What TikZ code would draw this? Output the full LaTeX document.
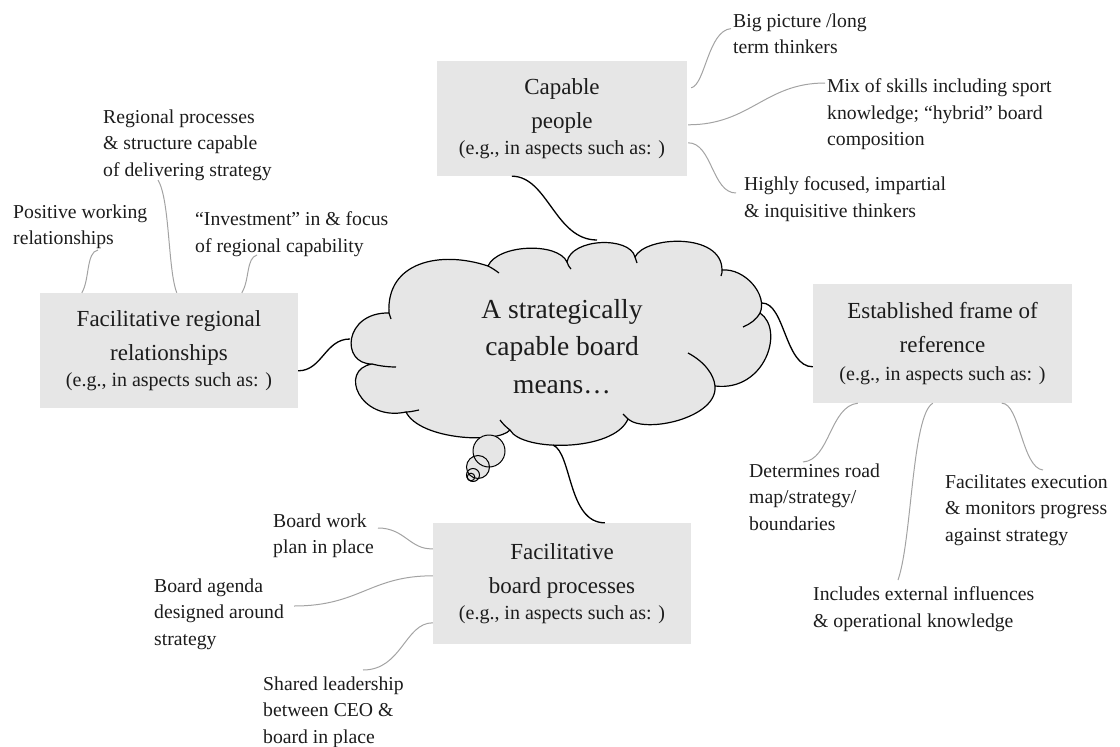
\documentclass[tikz,border=0pt]{standalone}
\usepackage{fontspec}
\IfFontExistsTF{LiberationSerif-Regular.ttf}
  {\setmainfont{LiberationSerif-Regular.ttf}}
  {\setmainfont{Liberation Serif}}
\usetikzlibrary{calc}
\definecolor{panel}{HTML}{E6E6E6}
\definecolor{twig}{HTML}{A3A3A3}
\definecolor{ink}{HTML}{1C1C1C}
\newcommand\boxtitle{\fontsize{23}{34}\selectfont}
\newcommand\boxnote{\fontsize{20}{34}\selectfont}
\newcommand\leaffont{\fontsize{19.7}{26.5}\selectfont}
\newcommand\cloudfont{\fontsize{27.5}{37.5}\selectfont}
\begin{document}
\begin{tikzpicture}[x=1pt,y=-1pt,
  panelbox/.style={fill=panel, inner sep=0pt, align=center, font=\boxtitle, text=ink},
  leaf/.style={anchor=north west, inner sep=0pt, align=left, font=\leaffont, text=ink},
  twigline/.style={draw=twig, line width=1pt},
  stem/.style={draw=black, line width=1.3pt},
  puff/.style={draw=black, line width=1.2pt, line join=round},
  bubble/.style={draw=black, line width=1pt}]
\useasboundingbox (0,0) rectangle (1120,747);

% ---- central thought cloud ----
\path[puff, fill=panel]
  (389,313) .. controls (386,262) and (440,250) .. (488,266)
  .. controls (498,244) and (558,242) .. (567,262)
  .. controls (571,238) and (630,236) .. (635,257)
  .. controls (645,236) and (722,232) .. (722,270)
  .. controls (745,268) and (768,295) .. (760,313)
  .. controls (785,330) and (765,392) .. (715,386)
  .. controls (718,418) and (645,434) .. (628,419)
  .. controls (614,452) and (522,452) .. (510,430)
  .. controls (498,444) and (420,440) .. (406,412)
  .. controls (360,422) and (338,370) .. (372,364)
  .. controls (340,364) and (344,312) .. (389,313) -- cycle;
% inner creases where the puffs meet
\draw[puff] (488,266) .. controls (492,268) and (495,270) .. (499,273);
\draw[puff] (567,262) .. controls (568,265) and (569,267) .. (571,269);
\draw[puff] (635,257) .. controls (636,259) and (636,261) .. (637,263);
\draw[puff] (722,270) .. controls (722,272) and (722,274) .. (721,276);
\draw[puff] (760,313) .. controls (756,320) and (750,324) .. (743,327);
\draw[puff] (715,386) .. controls (714,375) and (705,362) .. (688,353);
\draw[puff] (628,419) .. controls (626,417) and (625,416) .. (623,414);
\draw[puff] (510,430) .. controls (506,427) and (503,424) .. (500,420);
\draw[puff] (406,412) .. controls (410,412) and (414,411) .. (419,410);
\draw[puff] (372,364) .. controls (380,366) and (388,367) .. (396,367);
\draw[puff] (389,313) .. controls (390,315) and (390,317) .. (391,319);

% trailing thought bubbles
\fill[panel] (489,451) circle[radius=16];
\fill[panel] (478,467) circle[radius=11.5];
\fill[panel] (473,475) circle[radius=6.5];
\draw[bubble] (489,451) circle[radius=16];
\draw[bubble] (478,467) circle[radius=11.5];
\draw[bubble] (473,475) circle[radius=6.5];
\draw[bubble] (471,477) circle[radius=3.8];

\node[text=ink, align=center, font=\cloudfont, inner sep=0pt] (core) at (562,346.5)
  {A strategically\\capable board\\means…};
\coordinate (puffN) at (597,240);
\coordinate (puffW) at (350,339);
\coordinate (puffE) at (762,303);
\coordinate (puffS) at (553,445);

% ---- the four theme boxes ----
\node[panelbox, minimum width=250, minimum height=115] (cap) at (562,118.5)
  {Capable\\people\\[-8pt]\boxnote (e.g., in aspects such as: )};
\node[panelbox, minimum width=258, minimum height=115] (reg) at (169,350.5)
  {Facilitative regional\\relationships\\[-8pt]\boxnote (e.g., in aspects such as: )};
\node[panelbox, minimum width=259, minimum height=119] (frm) at (942.5,343.5)
  {Established frame of\\reference\\[-6pt]\boxnote (e.g., in aspects such as: )};
\node[panelbox, minimum width=258, minimum height=121] (brd) at (562,583.5)
  {Facilitative\\board processes\\[-8pt]\boxnote (e.g., in aspects such as: )};

% ---- aspects ----
\node[leaf] (big) at (733,13.6) {Big picture /long\\term thinkers};
\node[leaf] (mix) at (827,78.6) {Mix of skills including sport\\knowledge; “hybrid” board\\composition};
\node[leaf] (hif) at (744,176.6) {Highly focused, impartial\\\& inquisitive thinkers};
\node[leaf] (pos) at (13,204.6) {Positive working\\relationships};
\node[leaf] (rgp) at (103,109.6) {Regional processes\\\& structure capable\\of delivering strategy};
\node[leaf] (inv) at (195,211.6) {“Investment” in \& focus\\of regional capability};
\node[leaf] (det) at (749,463.6) {Determines road\\map/strategy/\\boundaries};
\node[leaf] (fac) at (945,474.6) {Facilitates execution\\\& monitors progress\\against strategy};
\node[leaf] (inc) at (813,586.6) {Includes external influences\\\& operational knowledge};
\node[leaf] (bwp) at (273,513.6) {Board work\\plan in place};
\node[leaf] (bag) at (154,578.6) {Board agenda\\designed around\\strategy};
\node[leaf] (shl) at (263,676.6) {Shared leadership\\between CEO \&\\board in place};

% ---- links from the cloud to the boxes ----
\draw[stem] ($(cap.south west)+(75,0)$) .. controls +(36,0) and +(-42,0) .. (puffN);
\draw[stem] ($(reg.north east)+(0,78)$) .. controls +(24,0) and +(-25,0) .. (puffW);
\draw[stem] (puffE) .. controls +(23,0) and +(-28,0) .. ($(frm.north west)+(0,83)$);
\draw[stem] (puffS) .. controls +(19,8) and +(-37,0) .. ($(brd.north west)+(172,0)$);

% ---- links from the boxes to their aspects ----
\draw[twigline] ($(cap.north east)+(4,27)$) .. controls +(14,-3) and +(-23,2) .. ($(big.north west)+(-2,15)$);
\draw[twigline] ($(cap.north east)+(1,64)$) .. controls +(62,0) and +(-60,0) .. ($(mix.north west)+(-2,4.4)$);
\draw[twigline] ($(cap.north east)+(1,82)$) .. controls +(24,0) and +(-24,0) .. ($(hif.north west)+(-8,16.4)$);
\draw[twigline] ($(reg.north west)+(42,0)$) .. controls +(8,-13) and +(-12,2) .. ($(pos.north west)+(85,45.4)$);
\draw[twigline] ($(reg.north west)+(137,0)$) .. controls +(-9,-23) and +(12,20) .. ($(rgp.north west)+(55,70.4)$);
\draw[twigline] ($(reg.north west)+(202,0)$) .. controls +(8,-13) and +(-11,3) .. ($(inv.north west)+(62,43.4)$);
\draw[twigline] ($(frm.south west)+(45,0)$) .. controls +(-28,3) and +(27,-2) .. ($(det.north west)+(54,-1.6)$);
\draw[twigline] ($(frm.south west)+(189,0)$) .. controls +(18,0) and +(-21,-2) .. ($(fac.north west)+(98,-4.6)$);
\draw[twigline] ($(frm.south west)+(120,0)$) .. controls +(-21,12) and +(14,-40) .. ($(inc.north west)+(85,-6.6)$);
\draw[twigline] ($(brd.north west)+(0,26)$) .. controls +(-23,1) and +(27,0) .. ($(bwp.north west)+(105,14.4)$);
\draw[twigline] ($(brd.north west)+(0,53)$) .. controls +(-63,0) and +(66,0) .. ($(bag.north west)+(140,27.4)$);
\draw[twigline] ($(brd.north west)+(0,100)$) .. controls +(-28,0) and +(39,0) .. ($(shl.north west)+(100,-6.6)$);
\end{tikzpicture}
\end{document}
